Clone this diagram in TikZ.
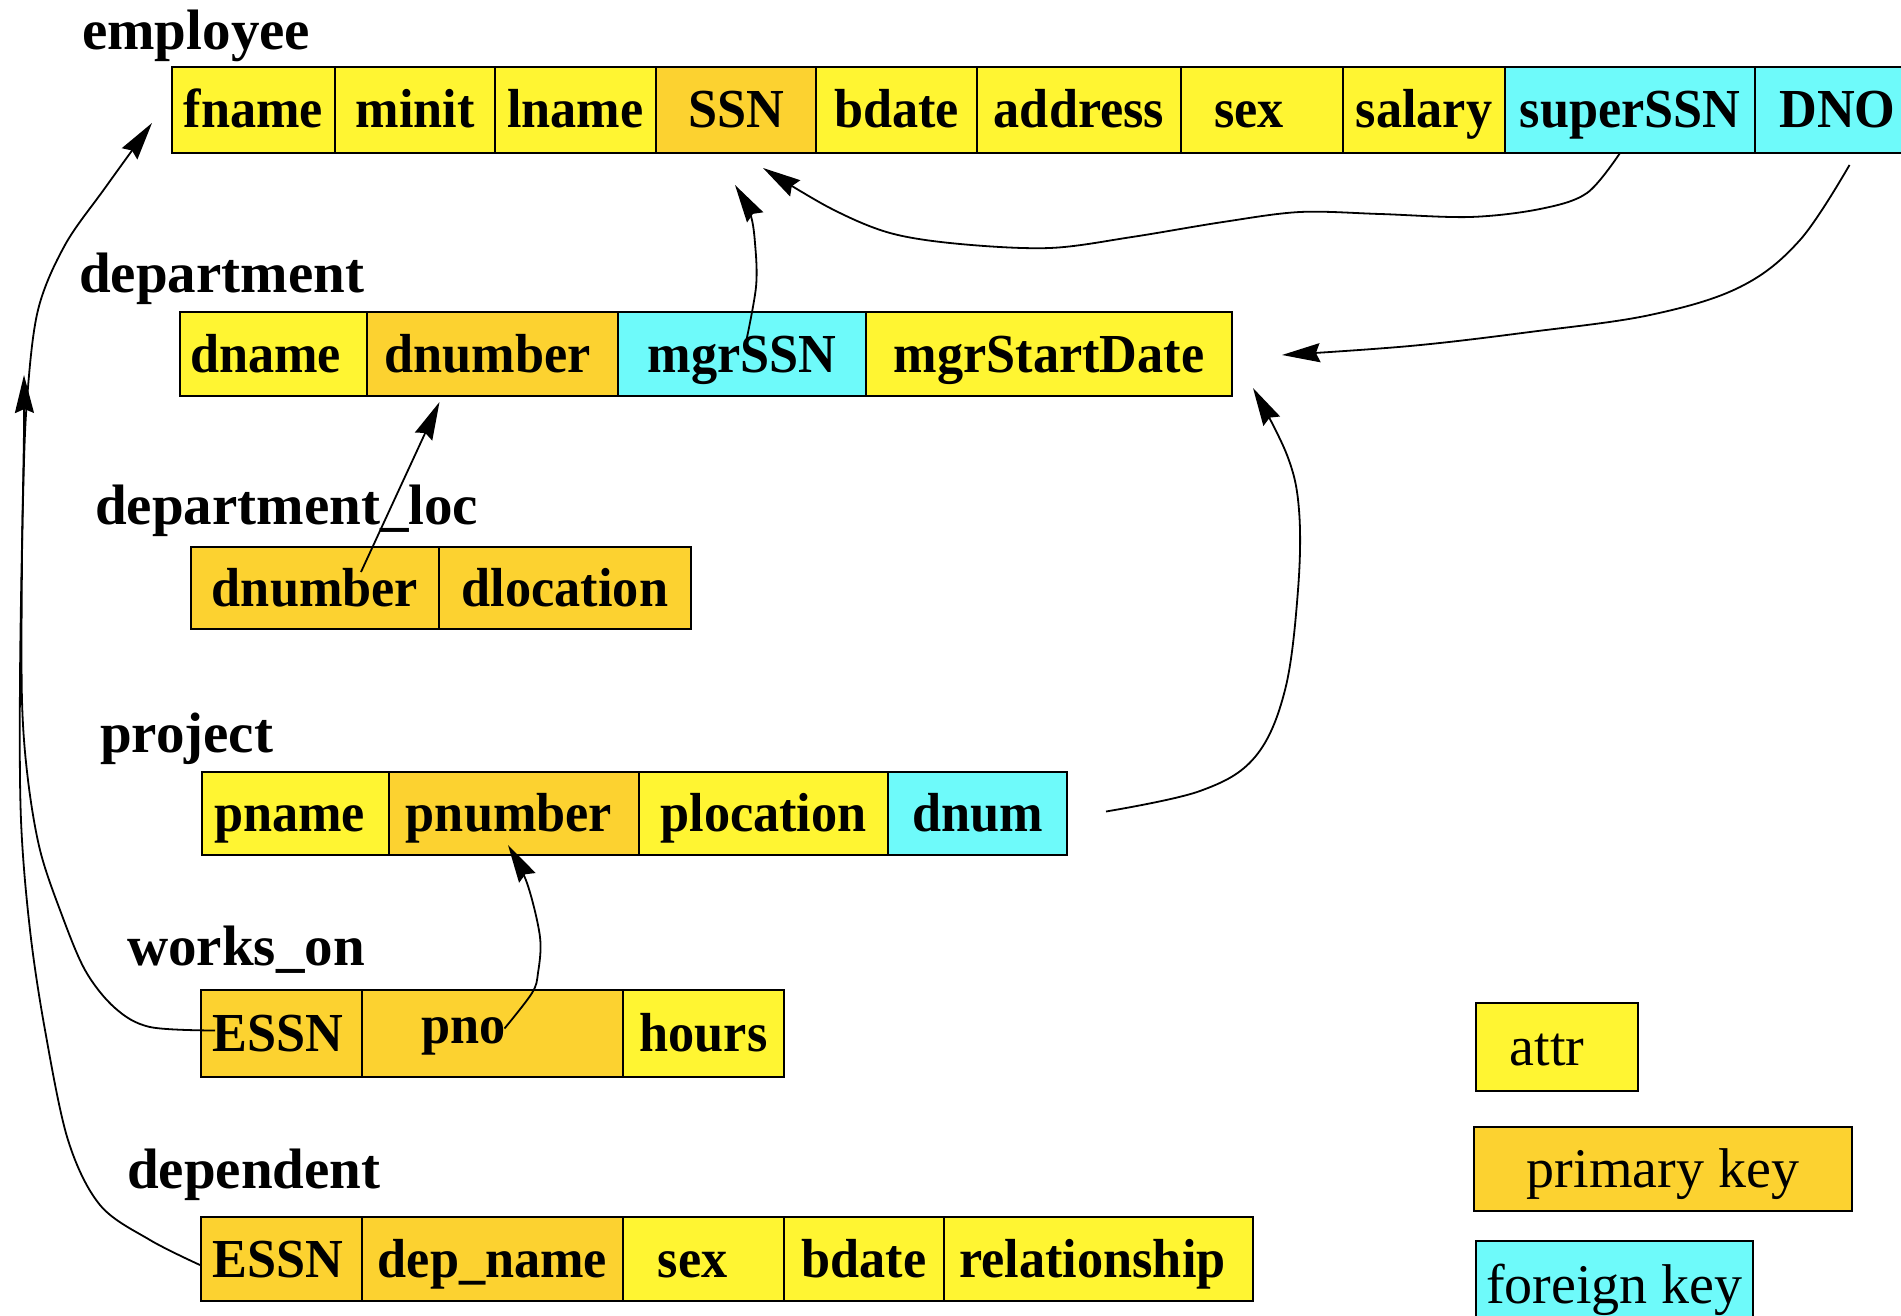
\documentclass[tikz,border=0pt]{standalone}
\usepackage{fontspec}
\setmainfont{Liberation Serif}
\newfontfamily\cellfont[FakeStretch=0.95]{Liberation Serif}
\usetikzlibrary{arrows.meta}
\definecolor{attrc}{RGB}{255,245,50}
\definecolor{pkc}{RGB}{252,210,48}
\definecolor{fkc}{RGB}{110,250,250}
\tikzset{
  cellbox/.style={draw=black, line width=2pt, inner sep=0pt, outer sep=0pt,
    text height=36pt, text depth=0pt, font=\cellfont\bfseries\fontsize{55}{60}\selectfont},
  legbox/.style={cellbox, font=\mdseries\fontsize{56}{60}\selectfont},
  tabname/.style={anchor=base west, inner sep=0pt, font=\bfseries\fontsize{57}{62}\selectfont},
  conn/.style={line width=1.8pt, line join=round, -{Stealth[length=38pt,width=19pt,inset=4pt]}},
}
\newcommand\mkcell[8]{%
  \pgfmathsetmacro\cw{#5-#4}%
  \pgfmathsetmacro\ch{#7-#6}%
  \node[#1, fill=#3, minimum width=\cw pt, minimum height=\ch pt, anchor=north west] (#2) at (#4,#6) {#8};}
\begin{document}
\begin{tikzpicture}[x=1pt,y=-1pt]
\useasboundingbox (0,0) rectangle (1901,1316);
% table names
\node[tabname] (tEmp) at (82,50) {employee};
\node[tabname] (tDept) at (79,292) {department};
\node[tabname] (tLoc) at (95,524) {department\_loc};
\node[tabname] (tProj) at (100,752) {project};
\node[tabname] (tWork) at (127,965) {works\_on};
\node[tabname] (tDep) at (127,1188) {dependent};
% employee
\mkcell{cellbox}{efname}{attrc}{172}{335}{67}{153}{fname}
\mkcell{cellbox}{eminit}{attrc}{335}{495}{67}{153}{minit}
\mkcell{cellbox}{elname}{attrc}{495}{656}{67}{153}{lname}
\mkcell{cellbox}{essn}{pkc}{656}{816}{67}{153}{SSN}
\mkcell{cellbox}{ebdate}{attrc}{816}{977}{67}{153}{bdate}
\mkcell{cellbox}{eaddr}{attrc}{977}{1181}{67}{153}{address}
\mkcell{cellbox}{esex}{attrc}{1181}{1343}{67}{153}{sex\hspace*{26pt}}
\mkcell{cellbox}{esal}{attrc}{1343}{1505}{67}{153}{salary}
\mkcell{cellbox}{esuper}{fkc}{1505}{1755}{67}{153}{superSSN}
\mkcell{cellbox}{edno}{fkc}{1755}{1914}{67}{153}{DNO\hspace*{-6pt}}
% department
\mkcell{cellbox}{ddname}{attrc}{180}{367}{312}{396}{dname\hspace*{16pt}}
\mkcell{cellbox}{ddnum}{pkc}{367}{618}{312}{396}{dnumber\hspace*{10pt}}
\mkcell{cellbox}{dmgr}{fkc}{618}{866}{312}{396}{mgrSSN}
\mkcell{cellbox}{dstart}{attrc}{866}{1232}{312}{396}{mgrStartDate}
% department_loc
\mkcell{cellbox}{ldnum}{pkc}{191}{439}{547}{629}{dnumber}
\mkcell{cellbox}{lloc}{pkc}{439}{691}{547}{629}{dlocation}
% project
\mkcell{cellbox}{pname}{attrc}{202}{389}{772}{855}{pname\hspace*{12pt}}
\mkcell{cellbox}{pnum}{pkc}{389}{639}{772}{855}{pnumber\hspace*{10pt}}
\mkcell{cellbox}{ploc}{attrc}{639}{888}{772}{855}{plocation}
\mkcell{cellbox}{pdnum}{fkc}{888}{1067}{772}{855}{dnum}
% works_on
\mkcell{cellbox}{wessn}{pkc}{201}{362}{990}{1077}{ESSN\hspace*{8pt}}
\mkcell{cellbox}{wpno}{pkc}{362}{623}{990}{1077}{}
\node[tabname, font=\cellfont\bfseries\fontsize{55}{60}\selectfont] (wpnotext) at (421,1043) {pno};
\mkcell{cellbox}{whours}{attrc}{623}{784}{990}{1077}{hours}
% dependent
\mkcell{cellbox}{dessn}{pkc}{201}{362}{1217}{1301}{ESSN\hspace*{8pt}}
\mkcell{cellbox}{depname}{pkc}{362}{623}{1217}{1301}{dep\_name}
\mkcell{cellbox}{dsex}{attrc}{623}{784}{1217}{1301}{sex\hspace*{22pt}}
\mkcell{cellbox}{dbdate}{attrc}{784}{944}{1217}{1301}{bdate}
\mkcell{cellbox}{drel}{attrc}{944}{1253}{1217}{1301}{relationship\hspace*{12pt}}
% legend
\mkcell{legbox}{legattr}{attrc}{1476}{1638}{1003}{1091}{attr\hspace*{20pt}}
\mkcell{legbox}{legpk}{pkc}{1474}{1852}{1127}{1211}{primary key}
\mkcell{legbox}{legfk}{fkc}{1476}{1753}{1241}{1330}{foreign key}
% connector end points
\coordinate (c1s) at ([xshift=-10pt]esuper.south);
\coordinate (c1e) at ([xshift=27pt,yshift=-15pt]essn.south);
\coordinate (c2s) at ([xshift=3pt,yshift=7pt]dmgr.center);
\coordinate (c2e) at ([xshift=-1pt,yshift=-32pt]essn.south);
\coordinate (c3s) at ([xshift=15pt,yshift=-12pt]edno.south);
\coordinate (c3e) at ([xshift=50pt,yshift=-1pt]dstart.east);
\coordinate (c4s) at ([xshift=39pt,yshift=2pt]pdnum.east);
\coordinate (c4e) at ([xshift=21pt,yshift=8pt]dstart.south east);
\coordinate (c5s) at ([xshift=12pt,yshift=5pt]wpno.center);
\coordinate (c5e) at ([xshift=-6pt,yshift=10pt]pnum.south);
\coordinate (c6s) at ([xshift=46pt,yshift=16pt]ldnum.center);
\coordinate (c6e) at ([xshift=-53pt,yshift=-6pt]ddnum.south);
\coordinate (c7s) at ([xshift=-1pt,yshift=-6pt]dessn.west);
\coordinate (c7e) at ([xshift=-20pt,yshift=-13pt]efname.west);
\coordinate (c8s) at ([xshift=14pt,yshift=3pt]wessn.west);
\coordinate (lefttip) at (24,375);
% connectors
\draw[conn] plot[smooth,tension=0.55] coordinates {(c1s) (1587,193) (1540,209) (1470,217) (1380,214) (1300,212) (1223,222) (1132,237) (1050,248) (960,244) (890,233) (830,208) (c1e)};
\draw[conn] plot[smooth,tension=0.55] coordinates {(c2s) (756,287) (755,243) (750,213) (c2e)};
\draw[conn] plot[smooth,tension=0.6] coordinates {(c3s) (1800,240) (1740,287) (1650,315) (1530,332) (1410,346) (c3e)};
\draw[conn] plot[smooth,tension=0.6] coordinates {(c4s) (1200,791) (1255,757) (1285,690) (1298,590) (1299,510) (1287,455) (c4e)};
\draw[conn] plot[smooth,tension=0.55] coordinates {(c5s) (532,993) (538,973) (540,937) (527,883) (c5e)};
\draw[conn] (c6s) -- (c6e);
\draw[conn] plot[smooth,tension=0.55] coordinates {(c7s) (150,1240) (100,1205) (68,1140) (45,1030) (30,930) (21,820) (20,680) (23,500) (27,400) (38,310) (65,245) (105,188) (c7e)};
\draw[conn] plot[smooth,tension=0.55] coordinates {(c8s) (150,1027) (115,1008) (85,970) (60,910) (40,850) (28,780) (22,700) (22,560) (24,430) (lefttip)};
\end{tikzpicture}
\end{document}
